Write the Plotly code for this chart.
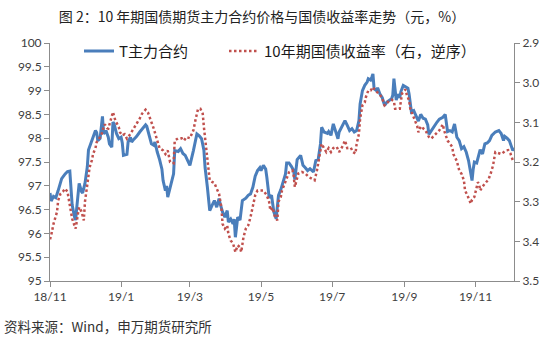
import plotly.graph_objects as go

# ---- data -------------------------------------------------------------
t_dates = [
    "2018-11-01", "2018-11-02", "2018-11-04", "2018-11-06", "2018-11-08", "2018-11-10", "2018-11-11", "2018-11-14", "2018-11-16", "2018-11-18",
    "2018-11-19", "2018-11-20", "2018-11-22", "2018-11-23", "2018-11-24", "2018-11-26", "2018-11-28", "2018-11-29", "2018-12-01", "2018-12-03",
    "2018-12-04", "2018-12-07", "2018-12-08", "2018-12-10", "2018-12-11", "2018-12-12", "2018-12-14", "2018-12-16", "2018-12-17", "2018-12-19",
    "2018-12-21", "2018-12-22", "2018-12-24", "2018-12-25", "2018-12-26", "2018-12-28", "2018-12-30", "2019-01-01", "2019-01-02", "2019-01-03",
    "2019-01-06", "2019-01-07", "2019-01-09", "2019-01-10", "2019-01-12", "2019-01-14", "2019-01-17", "2019-01-19", "2019-01-22", "2019-01-23",
    "2019-01-26", "2019-01-27", "2019-01-29", "2019-01-30", "2019-02-01", "2019-02-02", "2019-02-03", "2019-02-05", "2019-02-06", "2019-02-08",
    "2019-02-09", "2019-02-10", "2019-02-12", "2019-02-15", "2019-02-16", "2019-02-19", "2019-02-21", "2019-02-23", "2019-02-25", "2019-02-27",
    "2019-03-01", "2019-03-04", "2019-03-07", "2019-03-09", "2019-03-11", "2019-03-13", "2019-03-14", "2019-03-16", "2019-03-18", "2019-03-20",
    "2019-03-22", "2019-03-24", "2019-03-26", "2019-03-27", "2019-03-29", "2019-03-31", "2019-04-02", "2019-04-03", "2019-04-05", "2019-04-07",
    "2019-04-08", "2019-04-09", "2019-04-11", "2019-04-13", "2019-04-15", "2019-04-18", "2019-04-20", "2019-04-22", "2019-04-24", "2019-04-26",
    "2019-04-28", "2019-04-30", "2019-05-01", "2019-05-03", "2019-05-05", "2019-05-06", "2019-05-08", "2019-05-10", "2019-05-11", "2019-05-12",
    "2019-05-14", "2019-05-16", "2019-05-18", "2019-05-20", "2019-05-22", "2019-05-23", "2019-05-25", "2019-05-27", "2019-05-29", "2019-05-30",
    "2019-06-01", "2019-06-04", "2019-06-06", "2019-06-08", "2019-06-10", "2019-06-12", "2019-06-15", "2019-06-17", "2019-06-19", "2019-06-21",
    "2019-06-22", "2019-06-24", "2019-06-27", "2019-06-28", "2019-06-30", "2019-07-02", "2019-07-04", "2019-07-06", "2019-07-07", "2019-07-10",
    "2019-07-12", "2019-07-14", "2019-07-16", "2019-07-18", "2019-07-20", "2019-07-22", "2019-07-24", "2019-07-25", "2019-07-27", "2019-07-29",
    "2019-07-31", "2019-08-01", "2019-08-03", "2019-08-04", "2019-08-05", "2019-08-06", "2019-08-08", "2019-08-09", "2019-08-11", "2019-08-13",
    "2019-08-15", "2019-08-17", "2019-08-19", "2019-08-21", "2019-08-22", "2019-08-23", "2019-08-25", "2019-08-26", "2019-08-28", "2019-08-29",
    "2019-08-31", "2019-09-02", "2019-09-04", "2019-09-05", "2019-09-07", "2019-09-09", "2019-09-11", "2019-09-13", "2019-09-15", "2019-09-17",
    "2019-09-19", "2019-09-21", "2019-09-22", "2019-09-25", "2019-09-27", "2019-09-29", "2019-10-01", "2019-10-04", "2019-10-06", "2019-10-08",
    "2019-10-10", "2019-10-12", "2019-10-14", "2019-10-16", "2019-10-18", "2019-10-20", "2019-10-22", "2019-10-24", "2019-10-26", "2019-10-27",
    "2019-10-29", "2019-10-30", "2019-10-31", "2019-11-02", "2019-11-04", "2019-11-05", "2019-11-07", "2019-11-09", "2019-11-11", "2019-11-13",
    "2019-11-15", "2019-11-18", "2019-11-21", "2019-11-23", "2019-11-25", "2019-11-26", "2019-11-28", "2019-11-30", "2019-12-03", "2019-12-04",
]
t_price = [
    96.85, 96.68, 96.78, 96.75, 96.90, 97.04, 97.15, 97.25, 97.30, 97.31,
    96.85, 96.60, 96.35, 96.28, 96.55, 97.05, 96.88, 96.85, 97.05, 97.40,
    97.75, 97.95, 98.05, 98.16, 98.12, 97.95, 98.00, 98.46, 98.09, 98.16,
    98.02, 97.88, 97.81, 98.34, 98.30, 98.10, 97.99, 98.02, 97.90, 97.64,
    97.66, 97.92, 98.02, 97.92, 97.98, 98.03, 98.13, 98.20, 98.28, 98.25,
    97.99, 97.88, 97.85, 97.92, 97.71, 97.65, 97.55, 97.35, 97.11, 96.90,
    97.00, 96.76, 96.97, 97.25, 97.74, 97.72, 97.78, 97.68, 97.64, 97.55,
    97.43, 97.74, 98.09, 98.05, 97.99, 97.75, 97.39, 96.97, 96.48, 96.59,
    96.69, 96.55, 96.73, 96.62, 96.45, 96.34, 96.48, 96.24, 96.30, 96.20,
    96.30, 95.92, 96.34, 96.28, 96.69, 96.74, 96.80, 96.83, 96.97, 97.20,
    97.32, 97.38, 97.32, 97.43, 97.35, 97.18, 96.75, 96.80, 96.65, 96.45,
    96.31, 96.80, 96.92, 97.10, 97.25, 97.48, 97.48, 97.41, 97.32, 97.13,
    97.55, 97.64, 97.43, 97.38, 97.32, 97.36, 97.29, 97.53, 97.55, 97.88,
    98.23, 98.13, 98.10, 98.14, 98.06, 98.30, 98.13, 97.99, 98.13, 98.27,
    98.37, 98.27, 98.16, 98.20, 98.13, 98.16, 98.37, 98.72, 99.00, 99.11,
    99.18, 99.25, 99.22, 99.28, 99.35, 99.04, 99.00, 99.06, 98.93, 98.85,
    98.69, 98.76, 98.80, 98.83, 98.90, 99.25, 98.80, 98.92, 98.85, 98.98,
    99.11, 99.08, 99.05, 98.93, 98.55, 98.58, 98.45, 98.36, 98.50, 98.42,
    98.40, 98.28, 98.08, 98.20, 98.28, 98.34, 98.40, 98.44, 98.50, 98.14,
    98.16, 98.13, 98.30, 98.02, 97.95, 97.78, 97.82, 97.71, 97.53, 97.39,
    97.11, 97.35, 97.50, 97.48, 97.67, 97.76, 97.67, 97.88, 97.90, 97.95,
    98.06, 98.13, 98.16, 98.10, 97.95, 98.04, 98.00, 97.95, 97.74, 97.80,
]

yield_dates = [
    "2018-11-01", "2018-11-02", "2018-11-04", "2018-11-07", "2018-11-08", "2018-11-10", "2018-11-12", "2018-11-14", "2018-11-16", "2018-11-18",
    "2018-11-20", "2018-11-22", "2018-11-23", "2018-11-25", "2018-11-26", "2018-11-28", "2018-11-29", "2018-11-30", "2018-12-01", "2018-12-03",
    "2018-12-04", "2018-12-05", "2018-12-07", "2018-12-08", "2018-12-10", "2018-12-11", "2018-12-13", "2018-12-15", "2018-12-17", "2018-12-18",
    "2018-12-20", "2018-12-21", "2018-12-23", "2018-12-25", "2018-12-27", "2018-12-30", "2018-12-31", "2019-01-02", "2019-01-04", "2019-01-06",
    "2019-01-09", "2019-01-12", "2019-01-14", "2019-01-17", "2019-01-19", "2019-01-21", "2019-01-22", "2019-01-24", "2019-01-26", "2019-01-29",
    "2019-02-01", "2019-02-02", "2019-02-03", "2019-02-06", "2019-02-08", "2019-02-10", "2019-02-12", "2019-02-15", "2019-02-16", "2019-02-19",
    "2019-02-22", "2019-02-24", "2019-02-26", "2019-03-01", "2019-03-04", "2019-03-06", "2019-03-08", "2019-03-10", "2019-03-12", "2019-03-13",
    "2019-03-15", "2019-03-17", "2019-03-18", "2019-03-20", "2019-03-22", "2019-03-24", "2019-03-26", "2019-03-28", "2019-03-29", "2019-03-31",
    "2019-04-02", "2019-04-03", "2019-04-05", "2019-04-07", "2019-04-09", "2019-04-11", "2019-04-13", "2019-04-14", "2019-04-16", "2019-04-18",
    "2019-04-20", "2019-04-22", "2019-04-24", "2019-04-26", "2019-04-28", "2019-04-30", "2019-05-03", "2019-05-06", "2019-05-08", "2019-05-09",
    "2019-05-11", "2019-05-13", "2019-05-15", "2019-05-16", "2019-05-18", "2019-05-19", "2019-05-22", "2019-05-25", "2019-05-28", "2019-05-29",
    "2019-05-30", "2019-06-01", "2019-06-02", "2019-06-05", "2019-06-08", "2019-06-11", "2019-06-14", "2019-06-16", "2019-06-18", "2019-06-20",
    "2019-06-22", "2019-06-24", "2019-06-26", "2019-06-28", "2019-06-30", "2019-07-02", "2019-07-05", "2019-07-07", "2019-07-10", "2019-07-12",
    "2019-07-14", "2019-07-17", "2019-07-19", "2019-07-21", "2019-07-22", "2019-07-24", "2019-07-25", "2019-07-27", "2019-07-29", "2019-07-30",
    "2019-08-01", "2019-08-03", "2019-08-05", "2019-08-07", "2019-08-09", "2019-08-11", "2019-08-13", "2019-08-14", "2019-08-15", "2019-08-17",
    "2019-08-19", "2019-08-21", "2019-08-23", "2019-08-24", "2019-08-26", "2019-08-28", "2019-08-30", "2019-09-01", "2019-09-02", "2019-09-03",
    "2019-09-05", "2019-09-06", "2019-09-08", "2019-09-10", "2019-09-12", "2019-09-13", "2019-09-15", "2019-09-17", "2019-09-19", "2019-09-22",
    "2019-09-24", "2019-09-26", "2019-09-29", "2019-10-01", "2019-10-04", "2019-10-05", "2019-10-08", "2019-10-10", "2019-10-12", "2019-10-13",
    "2019-10-16", "2019-10-18", "2019-10-20", "2019-10-22", "2019-10-23", "2019-10-25", "2019-10-26", "2019-10-28", "2019-10-29", "2019-10-31",
    "2019-11-03", "2019-11-04", "2019-11-05", "2019-11-07", "2019-11-10", "2019-11-12", "2019-11-14", "2019-11-16", "2019-11-18", "2019-11-20",
    "2019-11-23", "2019-11-24", "2019-11-27", "2019-11-29", "2019-12-01", "2019-12-03", "2019-12-04",
]
yield_10y = [
    3.395, 3.385, 3.356, 3.326, 3.297, 3.280, 3.275, 3.267, 3.275, 3.314,
    3.343, 3.360, 3.368, 3.330, 3.314, 3.325, 3.335, 3.347, 3.300, 3.263,
    3.235, 3.213, 3.195, 3.179, 3.165, 3.150, 3.142, 3.133, 3.112, 3.105,
    3.115, 3.116, 3.095, 3.074, 3.095, 3.112, 3.125, 3.133, 3.130, 3.141,
    3.129, 3.115, 3.103, 3.090, 3.078, 3.070, 3.068, 3.075, 3.091, 3.116,
    3.146, 3.160, 3.165, 3.171, 3.180, 3.171, 3.200, 3.203, 3.146, 3.140,
    3.140, 3.146, 3.137, 3.140, 3.120, 3.091, 3.066, 3.066, 3.078, 3.112,
    3.162, 3.213, 3.246, 3.250, 3.253, 3.267, 3.280, 3.314, 3.356, 3.368,
    3.360, 3.381, 3.398, 3.405, 3.427, 3.410, 3.415, 3.427, 3.389, 3.368,
    3.360, 3.339, 3.314, 3.284, 3.272, 3.272, 3.272, 3.284, 3.301, 3.322,
    3.315, 3.339, 3.347, 3.300, 3.288, 3.272, 3.250, 3.226, 3.221, 3.234,
    3.263, 3.240, 3.229, 3.225, 3.229, 3.238, 3.242, 3.246, 3.221, 3.188,
    3.154, 3.165, 3.175, 3.165, 3.175, 3.165, 3.162, 3.175, 3.160, 3.146,
    3.165, 3.164, 3.175, 3.179, 3.155, 3.129, 3.091, 3.057, 3.050, 3.036,
    3.020, 3.020, 3.011, 3.020, 3.024, 3.030, 3.040, 3.049, 3.057, 3.052,
    3.045, 3.043, 3.047, 3.066, 3.066, 3.066, 3.027, 3.022, 3.017, 3.030,
    3.045, 3.065, 3.080, 3.090, 3.110, 3.125, 3.110, 3.115, 3.120, 3.137,
    3.141, 3.135, 3.125, 3.120, 3.105, 3.120, 3.146, 3.155, 3.162, 3.180,
    3.198, 3.221, 3.230, 3.246, 3.272, 3.284, 3.293, 3.305, 3.295, 3.288,
    3.251, 3.255, 3.272, 3.262, 3.251, 3.245, 3.229, 3.209, 3.175, 3.177,
    3.180, 3.178, 3.171, 3.170, 3.179, 3.196, 3.200,
]

x_tick_dates = ["2018-11-01", "2019-01-01", "2019-03-01", "2019-05-01",
                "2019-07-01", "2019-09-01", "2019-11-01"]
x_tick_labels = ["18/11", "19/1", "19/3", "19/5", "19/7", "19/9", "19/11"]

title_text = "图 2：10 年期国债期货主力合约价格与国债收益率走势（元，%）"
source_text = "资料来源：Wind，申万期货研究所"
name_price = "T主力合约"
name_yield = "10年期国债收益率（右，逆序）"

# ---- styling -----------------------------------------------------------
BLUE = "#4A7EBB"
RED = "#C0504D"
AXIS = "#8C8C8C"
TICK_FONT = dict(family="Lato, 'Open Sans', sans-serif", size=12, color="#404040")
CJK = "'Noto Sans CJK SC', sans-serif"
LEGEND_FONT = dict(family=CJK, size=15, color="#1a1a1a")

fig = go.Figure()

fig.add_trace(go.Scatter(
    x=t_dates, y=t_price, name=name_price, mode="lines",
    line=dict(color=BLUE, width=3), yaxis="y", legend="legend",
))
fig.add_trace(go.Scatter(
    x=yield_dates, y=yield_10y, name=name_yield, mode="lines",
    line=dict(color=RED, width=2.5, dash="2.5px,2.5px"), yaxis="y2", legend="legend2",
))

axis_common = dict(
    showgrid=False, zeroline=False, showline=True, linecolor=AXIS, linewidth=1,
    ticks="outside", ticklen=5, tickcolor=AXIS, tickwidth=1, tickfont=TICK_FONT,
)

# plot area spans 464 x 238 px; legends sit just under its top edge
fig.update_layout(
    width=557, height=344,
    margin=dict(l=50, r=43, t=43, b=63),
    paper_bgcolor="white", plot_bgcolor="white",
    showlegend=True,
    legend=dict(
        orientation="h", x=(79 - 50) / 464, y=1.035, xanchor="left", yanchor="top",
        bgcolor="rgba(0,0,0,0)", font=LEGEND_FONT,
    ),
    legend2=dict(
        orientation="h", x=(224 - 50) / 464, y=1.035, xanchor="left", yanchor="top",
        bgcolor="rgba(0,0,0,0)", font=LEGEND_FONT,
    ),
    xaxis=dict(
        type="date", range=["2018-11-01", "2019-12-04"],
        tickvals=x_tick_dates, ticktext=x_tick_labels,
        **axis_common,
    ),
    yaxis=dict(range=[95, 100], dtick=0.5, tick0=95, **axis_common),
    yaxis2=dict(
        range=[3.5, 2.9], dtick=0.1, tick0=2.9, tickformat=".1f",
        overlaying="y", side="right", **axis_common,
    ),
    title=dict(
        text=title_text, x=262 / 557, xanchor="center", y=1 - 17 / 344, yanchor="middle",
        xref="container", yref="container",
        font=dict(family=CJK, size=14, color="#222222"),
    ),
    annotations=[dict(
        text=source_text, xref="paper", yref="paper",
        x=-48 / 464, y=-(326 - 280.6) / 238, xanchor="left", yanchor="middle",
        showarrow=False, font=dict(family=CJK, size=13.5, color="#333333"),
    )],
)

fig.write_html("out.html")
